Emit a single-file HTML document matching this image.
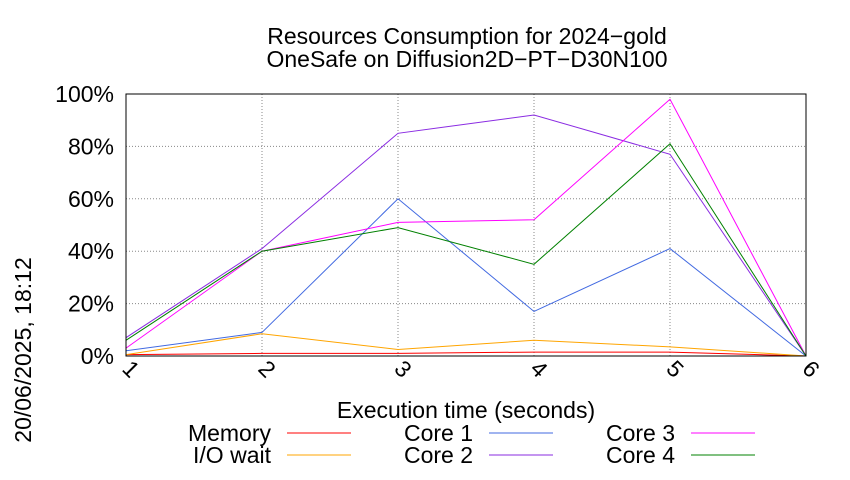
<!DOCTYPE html>
<html><head><meta charset="utf-8"><style>
body{margin:0;background:#fff}
svg text{font-family:"Liberation Sans",sans-serif;fill:#000}
</style></head><body>
<svg width="850" height="475" viewBox="0 0 850 475" id="c">
<text x="467" y="44" font-size="23" text-anchor="middle">Resources Consumption for 2024−gold</text>
<text x="467" y="67" font-size="23" text-anchor="middle">OneSafe on Diffusion2D−PT−D30N100</text>
<text transform="translate(31,350) rotate(-90)" font-size="23" text-anchor="middle">20/06/2025, 18:12</text>
<text x="466" y="418" font-size="23" text-anchor="middle">Execution time (seconds)</text>
<g id="grid"></g><g id="series"></g><g id="legend"></g>
<rect x="126" y="94" width="680" height="262" fill="none" stroke="#000" stroke-width="1"/>
</svg>
<script>
const xTicks=[1,2,3,4,5,6];
const yTicks=[0,20,40,60,80,100];
const yTickLabels=["0%","20%","40%","60%","80%","100%"];
const seriesNames=["Memory","I/O wait","Core 1","Core 2","Core 3","Core 4"];
const seriesColors=["#ff0000","#ffa500","#4169e1","#8a2be2","#ff00ff","#008000"];
const memory=[0.5,1,1,1.5,1.5,0];
const ioWait=[0.5,8.5,2.5,6,3.5,0];
const core1=[2,9,60,17,41,0];
const core2=[7,41,85,92,77,0];
const core3=[3,40,51,52,98,0];
const core4=[6,40,49,35,81,0];
const allSeries=[memory,ioWait,core1,core2,core3,core4];
const NS="http://www.w3.org/2000/svg";
const X0=126,X1=806,Y0=356,Y1=94;
const xs=v=>X0+(v-1)/5*(X1-X0);
const ys=v=>Y0-v/100*(Y0-Y1);
function mk(t,a,p){const e=document.createElementNS(NS,t);for(const k in a)e.setAttribute(k,a[k]);p.appendChild(e);return e;}
const g=document.getElementById('grid');
yTicks.forEach((v,i)=>{
 const l=mk('line',{x1:X0,x2:X1,y1:ys(v),y2:ys(v),stroke:'#888','stroke-dasharray':'1,2'},g);
 
 
 const t=mk('text',{x:X0-12,y:ys(v)+8,'font-size':23,'text-anchor':'end'},g);
 t.textContent=yTickLabels[i];
 
 
});
xTicks.forEach(v=>{
 const l=mk('line',{x1:xs(v),x2:xs(v),y1:Y0,y2:Y1,stroke:'#888','stroke-dasharray':'1,2'},g);
 
 
 const t=mk('text',{transform:`translate(${xs(v)-5},${Y0+14}) rotate(45)`,'font-size':23},g);
 t.textContent=v;
 
 
});
const s=document.getElementById('series');
allSeries.forEach((d,i)=>{
 const p=mk('polyline',{points:d.map((v,j)=>xs(xTicks[j])+','+ys(v)).join(' '),fill:'none',stroke:seriesColors[i],'stroke-width':1},s);
 
 
});
const lg=document.getElementById('legend');
const order=[0,2,4,1,3,5];
order.forEach((si,k)=>{
 const col=k%3,row=Math.floor(k/3);
 const tx=271+col*202,y=row?455:433;
 const t=mk('text',{x:tx,y:y+8,'font-size':23,'text-anchor':'end'},lg);
 t.textContent=seriesNames[si];
 
 
 const l=mk('line',{x1:tx+16,x2:tx+80,y1:y,y2:y,stroke:seriesColors[si]},lg);
 
 
});
</script>
</body></html>
